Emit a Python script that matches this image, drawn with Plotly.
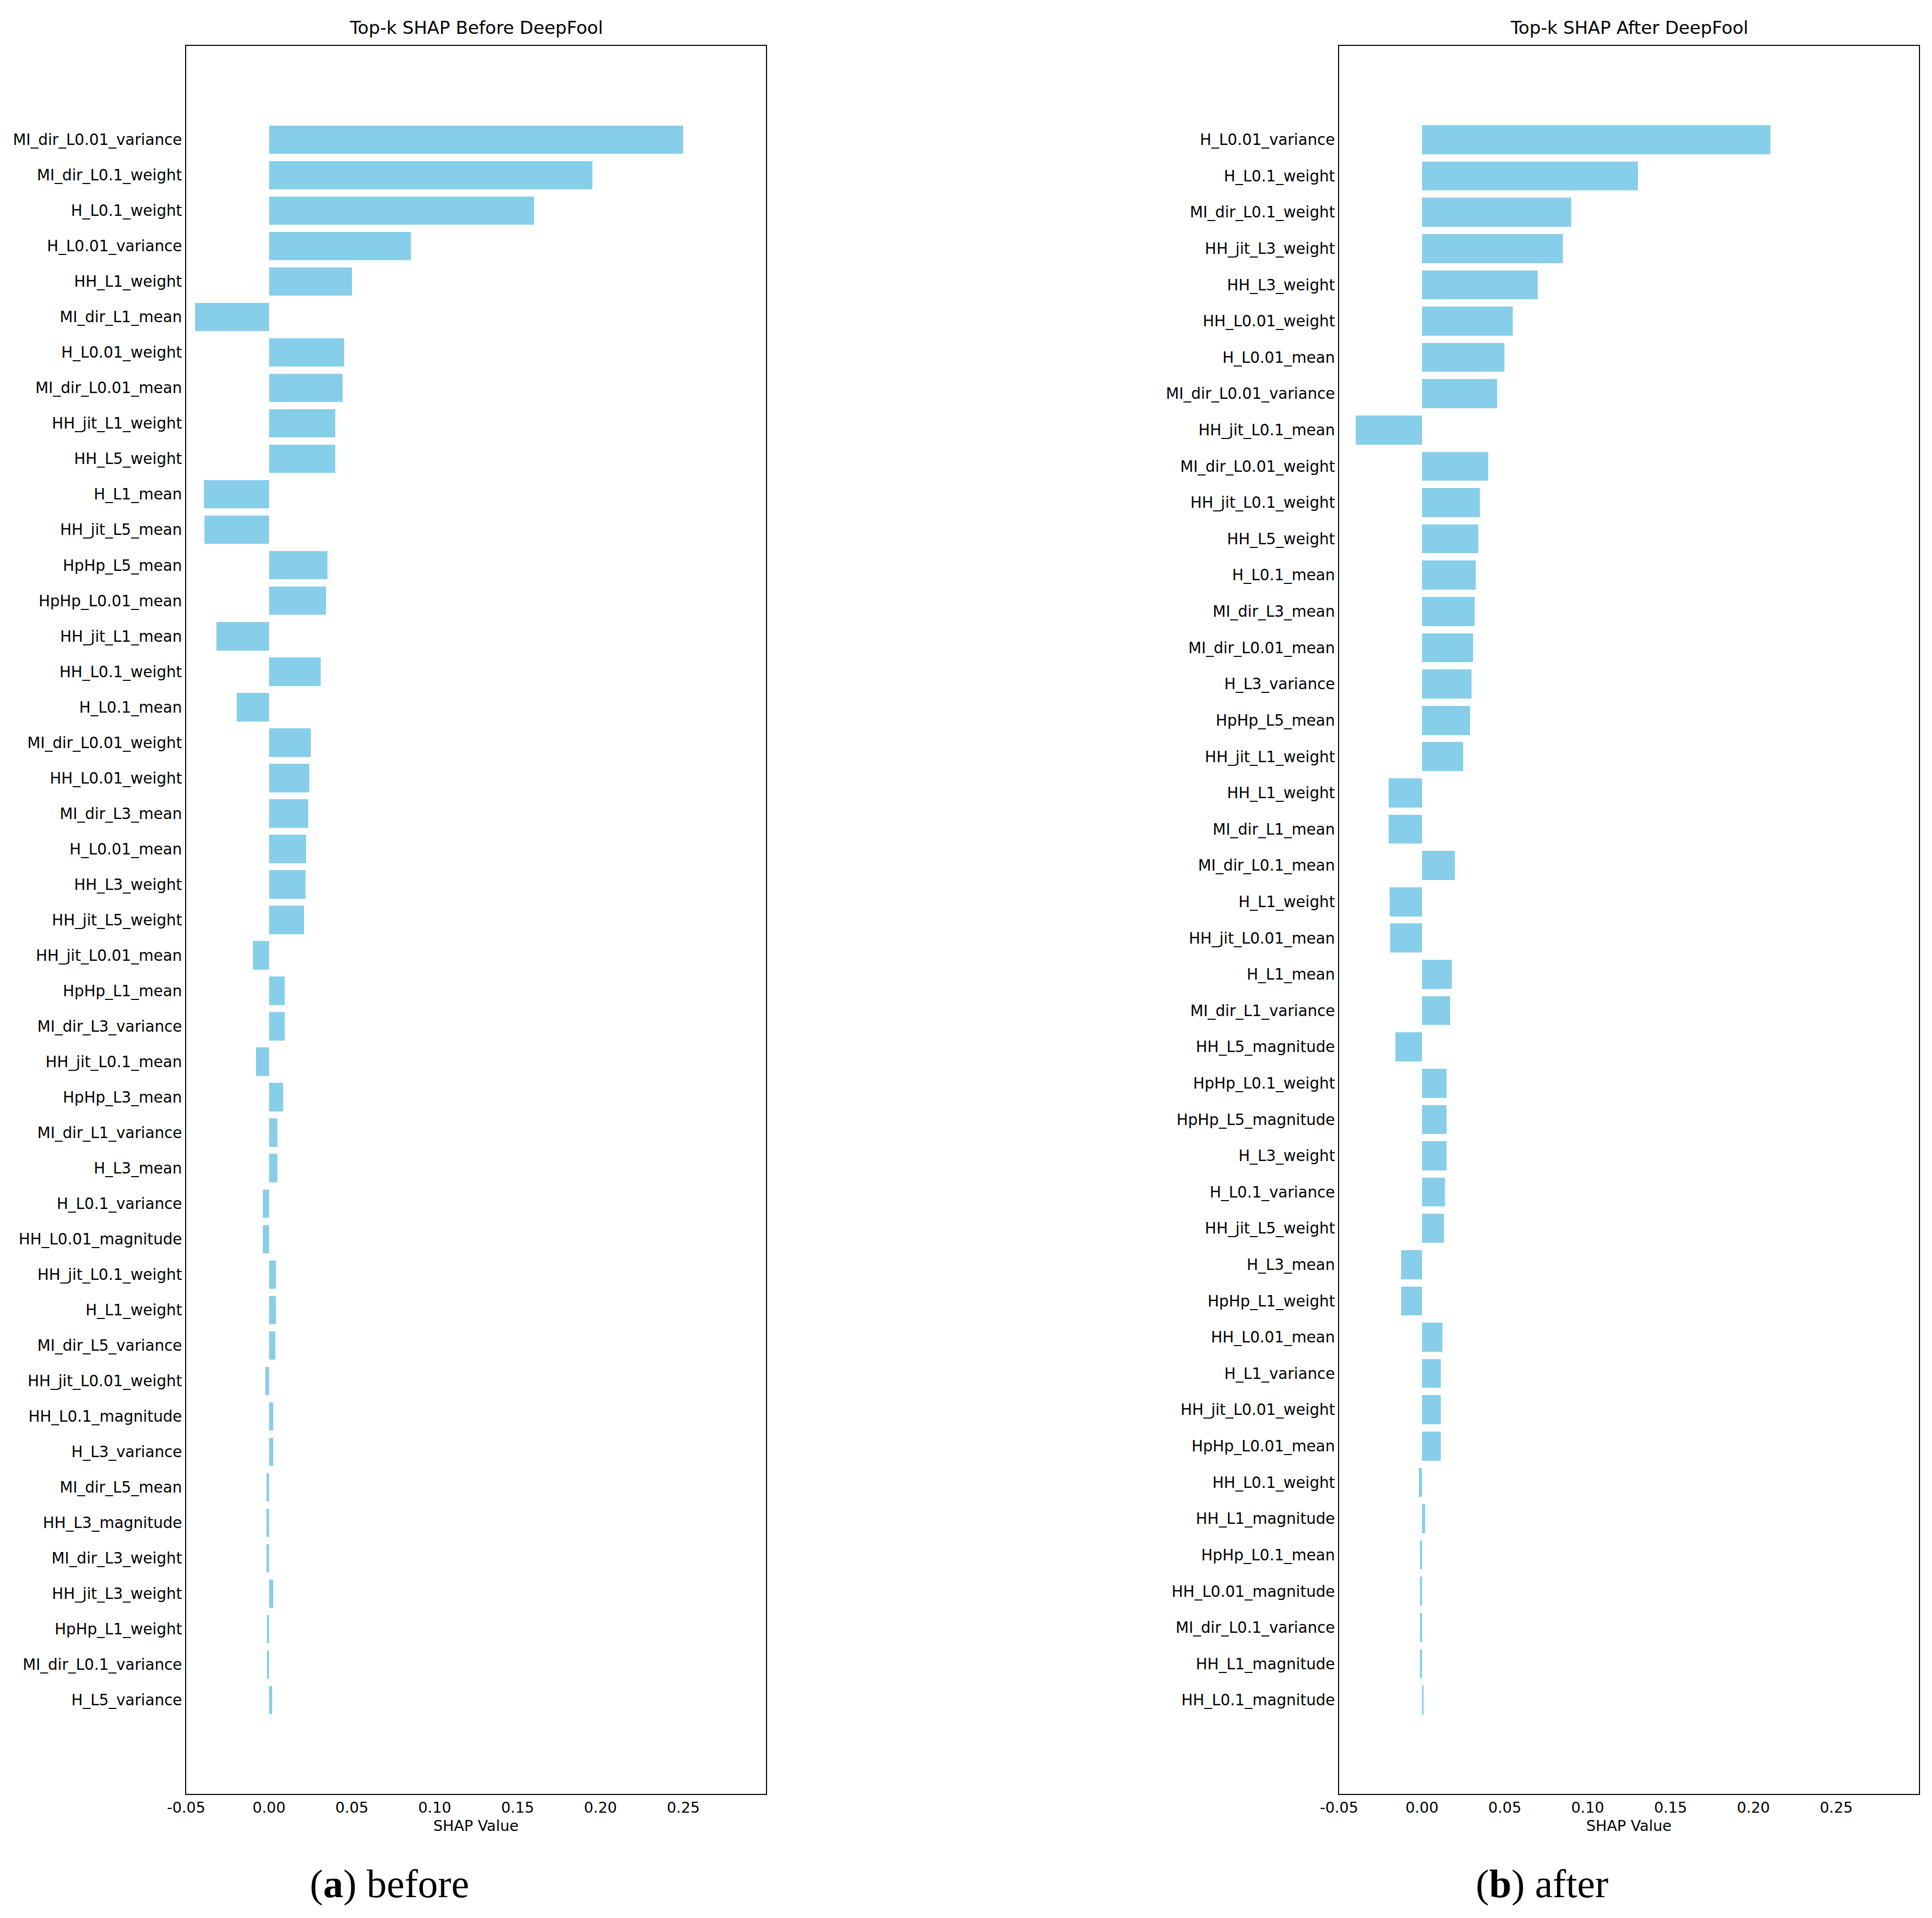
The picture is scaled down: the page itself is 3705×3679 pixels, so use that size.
import plotly.graph_objects as go

# ---------------- data ----------------
before_features = [
    "MI_dir_L0.01_variance", "MI_dir_L0.1_weight", "H_L0.1_weight", "H_L0.01_variance",
    "HH_L1_weight", "MI_dir_L1_mean", "H_L0.01_weight", "MI_dir_L0.01_mean",
    "HH_jit_L1_weight", "HH_L5_weight", "H_L1_mean", "HH_jit_L5_mean",
    "HpHp_L5_mean", "HpHp_L0.01_mean", "HH_jit_L1_mean", "HH_L0.1_weight",
    "H_L0.1_mean", "MI_dir_L0.01_weight", "HH_L0.01_weight", "MI_dir_L3_mean",
    "H_L0.01_mean", "HH_L3_weight", "HH_jit_L5_weight", "HH_jit_L0.01_mean",
    "HpHp_L1_mean", "MI_dir_L3_variance", "HH_jit_L0.1_mean", "HpHp_L3_mean",
    "MI_dir_L1_variance", "H_L3_mean", "H_L0.1_variance", "HH_L0.01_magnitude",
    "HH_jit_L0.1_weight", "H_L1_weight", "MI_dir_L5_variance", "HH_jit_L0.01_weight",
    "HH_L0.1_magnitude", "H_L3_variance", "MI_dir_L5_mean", "HH_L3_magnitude",
    "MI_dir_L3_weight", "HH_jit_L3_weight", "HpHp_L1_weight", "MI_dir_L0.1_variance",
    "H_L5_variance",
]
before_values = [
    0.250, 0.195, 0.160, 0.0855,
    0.050, -0.0446, 0.0452, 0.0443,
    0.0401, 0.0401, -0.0392, -0.0389,
    0.0352, 0.0343, -0.0316, 0.0313,
    -0.0196, 0.0253, 0.0244, 0.0235,
    0.0223, 0.0222, 0.0211, -0.0096,
    0.0096, 0.0095, -0.0078, 0.0084,
    0.0051, 0.0051, -0.0036, -0.0036,
    0.0042, 0.0042, 0.0039, -0.0021,
    0.0027, 0.0027, -0.0015, -0.0015,
    -0.0015, 0.0024, -0.0012, -0.0012,
    0.0018,
]

after_features = [
    "H_L0.01_variance", "H_L0.1_weight", "MI_dir_L0.1_weight", "HH_jit_L3_weight",
    "HH_L3_weight", "HH_L0.01_weight", "H_L0.01_mean", "MI_dir_L0.01_variance",
    "HH_jit_L0.1_mean", "MI_dir_L0.01_weight", "HH_jit_L0.1_weight", "HH_L5_weight",
    "H_L0.1_mean", "MI_dir_L3_mean", "MI_dir_L0.01_mean", "H_L3_variance",
    "HpHp_L5_mean", "HH_jit_L1_weight", "HH_L1_weight", "MI_dir_L1_mean",
    "MI_dir_L0.1_mean", "H_L1_weight", "HH_jit_L0.01_mean", "H_L1_mean",
    "MI_dir_L1_variance", "HH_L5_magnitude", "HpHp_L0.1_weight", "HpHp_L5_magnitude",
    "H_L3_weight", "H_L0.1_variance", "HH_jit_L5_weight", "H_L3_mean",
    "HpHp_L1_weight", "HH_L0.01_mean", "H_L1_variance", "HH_jit_L0.01_weight",
    "HpHp_L0.01_mean", "HH_L0.1_weight", "HH_L1_magnitude", "HpHp_L0.1_mean",
    "HH_L0.01_magnitude", "MI_dir_L0.1_variance", "HH_L1_magnitude", "HH_L0.1_magnitude",
]
after_values = [
    0.2103, 0.1302, 0.0901, 0.0849,
    0.0698, 0.0549, 0.0498, 0.0452,
    -0.0400, 0.0400, 0.0349, 0.0341,
    0.0325, 0.0319, 0.0309, 0.0299,
    0.0291, 0.0249, -0.0201, -0.0201,
    0.0199, -0.0195, -0.0191, 0.0181,
    0.0171, -0.0161, 0.0149, 0.0149,
    0.0149, 0.0139, 0.0131, -0.0124,
    -0.0124, 0.0122, 0.0114, 0.0114,
    0.0114, -0.0018, 0.0020, -0.0012,
    -0.0012, -0.0012, -0.0012, 0.0010,
]

x_ticks = [-0.05, 0.00, 0.05, 0.10, 0.15, 0.20, 0.25]
x_tick_text = ["-0.05", "0.00", "0.05", "0.10", "0.15", "0.20", "0.25"]
titles = ["Top-k SHAP Before DeepFool", "Top-k SHAP After DeepFool"]
captions = ["(<b>a</b>) before", "(<b>b</b>) after"]
x_label = "SHAP Value"

# ---------------- layout constants ----------------
W, H = 3705, 3679
BAR_COLOR = "#87CEEB"
FONT = "DejaVu Sans"
XTICK_SIZE = 28.5
YTICK_SIZE = 29.3

def px_x(p):
    return p / W

def px_y(p):
    return 1 - p / H

ax_top, ax_bot = 88, 3441
panels = [
    dict(x0=357, x1=1469, feats=before_features, vals=before_values, pad=2.645,
         cap_x=747),
    dict(x0=2568, x1=3680, feats=after_features, vals=after_values, pad=2.585,
         cap_x=2957),
]

fig = go.Figure()
annotations = []
for k, p in enumerate(panels):
    n = len(p["feats"])
    pos = list(range(n))
    xa = "x" if k == 0 else f"x{k+1}"
    ya = "y" if k == 0 else f"y{k+1}"
    fig.add_trace(go.Bar(
        x=p["vals"], y=pos, orientation="h", width=0.8,
        marker=dict(color=BAR_COLOR, line=dict(width=0)),
        xaxis=xa, yaxis=ya, showlegend=False,
        hovertext=p["feats"],
    ))
    axis_common = dict(showgrid=False, zeroline=False, showline=True, mirror=True,
                       linecolor="black", linewidth=2, ticks="", automargin=False)
    xkey = "xaxis" if k == 0 else f"xaxis{k+1}"
    ykey = "yaxis" if k == 0 else f"yaxis{k+1}"
    fig.layout[xkey] = dict(
        domain=[px_x(p["x0"]), px_x(p["x1"])],
        range=[-0.05, 0.2999],
        tickvals=x_ticks, ticktext=x_tick_text,
        tickfont=dict(family=FONT, size=XTICK_SIZE, color="black"),
        anchor=ya, ticklabelstandoff=0, **axis_common,
    )
    fig.layout[ykey] = dict(
        domain=[px_y(ax_bot), px_y(ax_top)],
        range=[n - 1 + p["pad"], -p["pad"]],
        tickvals=pos, ticktext=p["feats"],
        tickfont=dict(family=FONT, size=YTICK_SIZE, color="black"),
        anchor=xa, ticklabelstandoff=0, **axis_common,
    )
    cx = px_x((p["x0"] + p["x1"]) / 2)
    annotations.append(dict(
        text=titles[k], x=cx, y=px_y(53), xref="paper", yref="paper",
        xanchor="center", yanchor="middle", showarrow=False,
        font=dict(family=FONT, size=34.2, color="black")))
    annotations.append(dict(
        text=x_label, x=cx, y=px_y(3502), xref="paper", yref="paper",
        xanchor="center", yanchor="middle", showarrow=False,
        font=dict(family=FONT, size=XTICK_SIZE, color="black")))
    annotations.append(dict(
        text=captions[k], x=px_x(p["cap_x"]), y=px_y(3613), xref="paper", yref="paper",
        xanchor="center", yanchor="middle", showarrow=False,
        font=dict(family="Liberation Serif", size=77, color="black")))

fig.update_layout(
    width=W, height=H,
    margin=dict(l=0, r=0, t=0, b=0, autoexpand=False),
    paper_bgcolor="white", plot_bgcolor="white",
    bargap=0, annotations=annotations,
)

fig.write_html("out.html")
